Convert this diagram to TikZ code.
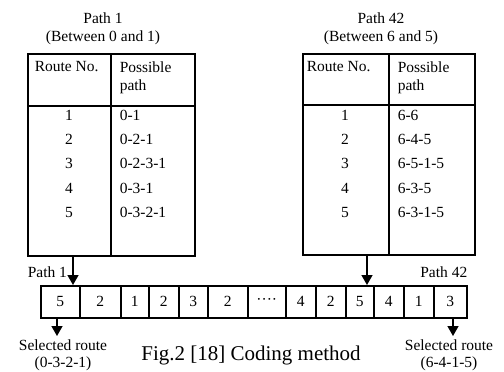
\documentclass[tikz,border=0pt]{standalone}
\usepackage{fontspec}
\setmainfont{Liberation Serif}
\usetikzlibrary{arrows.meta}
\begin{document}
\begin{tikzpicture}[x=1pt,y=-1pt,
  line width=1.5pt,
  txt/.style={font=\fontsize{15.5}{17}\selectfont, inner sep=0pt},
  ttl/.style={txt, align=center},
  cell/.style={draw, line width=1.5pt, minimum height=32pt, inner sep=0pt, font=\fontsize{15.5}{17}\selectfont, anchor=north west},
  arr/.style={line width=1.5pt, -{Triangle[width=11pt,length=10pt]}},
  tbl/.style={draw, line width=1.5pt, anchor=north west, inner sep=0pt}]
\useasboundingbox (0,0) rectangle (504,372);

% ---------- titles
\node[ttl] (t1a) at (103,18) {Path 1};
\node[ttl] (t1b) at (103,38) {(Between 0 and 1)};
\node[ttl] (t2a) at (381,18) {Path 42};
\node[ttl] (t2b) at (381,38) {(Between 6 and 5)};

% ---------- left table
\node[tbl, minimum width=167pt, minimum height=202pt] (T1) at (27,53) {};
\draw (27,106) -- (194,106);
\draw (111,53) -- (111,255);
\node[txt, anchor=west] (h1a) at (34,67) {Route No.};
\node[txt, anchor=west] (h1b) at (119,67) {Possible};
\node[txt, anchor=west] (h1c) at (119,87) {path};
\foreach \n/\p/\y in {1/0-1/115, 2/0-2-1/139, 3/0-2-3-1/163, 4/0-3-1/188, 5/0-3-2-1/212}{
  \node[txt] (l\n) at (69,\y) {\n};
  \node[txt, anchor=west] (lp\n) at (119,\y) {\p};
}

% ---------- right table
\node[tbl, minimum width=172pt, minimum height=201pt] (T2) at (302,53) {};
\draw (302,105) -- (474,105);
\draw (389,53) -- (389,254);
\node[txt, anchor=west] (h2a) at (306,67) {Route No.};
\node[txt, anchor=west] (h2b) at (397,67) {Possible};
\node[txt, anchor=west] (h2c) at (397,87) {path};
\foreach \n/\p/\y in {1/6-6/115, 2/6-4-5/139, 3/6-5-1-5/163, 4/6-3-5/188, 5/6-3-1-5/212}{
  \node[txt] (r\n) at (345,\y) {\n};
  \node[txt, anchor=west] (rp\n) at (397,\y) {\p};
}

% ---------- coding strip
\foreach \i/\xa/\w/\t in {1/40/39/5, 2/79/41/2, 3/120/28/1, 4/148/30/2, 5/178/29/3, 6/207/40/2,
  7/247/38/····, 8/285/30/4, 9/315/30/2, 10/345/28/5, 11/373/30/4, 12/403/30/1, 13/433/33/3}{
  \node[cell, minimum width=\w pt] (c\i) at (\xa,285) {\t};
}

% ---------- arrows into strip
\coordinate (a1) at (73,255);
\draw[arr] (a1) -- (a1 |- c1.north);
\coordinate (a2) at (367,254);
\draw[arr] (a2) -- (a2 |- c1.north);
\node[txt, anchor=west] (p1) at (27,272) {Path 1};
\node[txt, anchor=east] (p42) at (468,272) {Path 42};

% ---------- arrows out of strip
\node[ttl] (s1) at (63,355) {Selected route\\[0pt](0-3-2-1)};
\node[ttl] (s2) at (449,355) {Selected route\\[0pt](6-4-1-5)};
\coordinate (d1) at (57,336);
\coordinate (d2) at (453,336);
\draw[arr] (d1 |- c1.south) -- (d1);
\draw[arr] (d2 |- c13.south) -- (d2);

% ---------- caption
\node[font=\fontsize{21}{24}\selectfont, inner sep=0pt] (cap) at (251,355) {Fig.2 [18] Coding method};
\end{tikzpicture}
\end{document}
